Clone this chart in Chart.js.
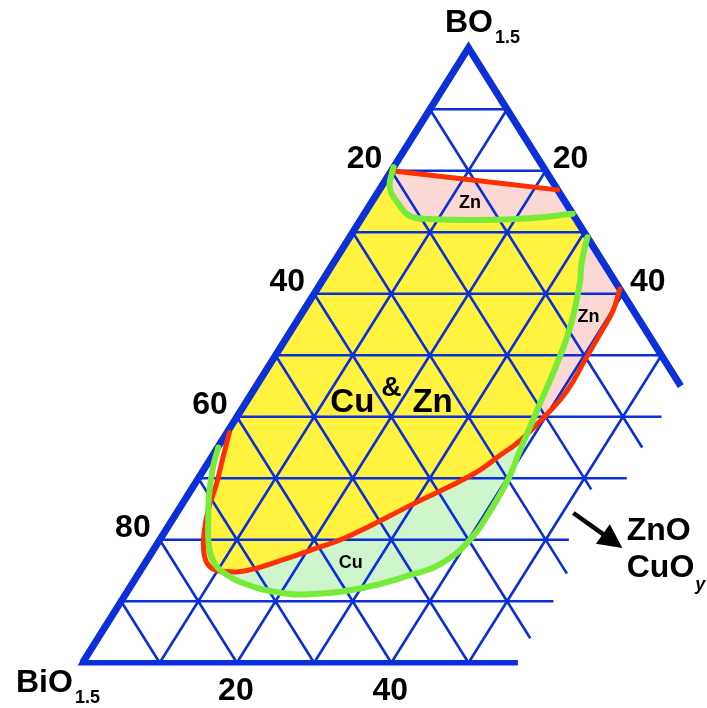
<!DOCTYPE html>
<html>
<head>
<meta charset="utf-8">
<title>BiO1.5 - BO1.5 - ZnO/CuOy</title>
<script src="https://cdn.jsdelivr.net/npm/chart.js@4/dist/chart.umd.min.js"></script>
<style>
  body { margin: 0; background: #fff; }
  canvas { display: block; }
</style>
</head>
<body>
<canvas id="tern" width="707" height="708"></canvas>
<script>
// every composition is [BO1.5 mol%, ZnO/CuOy mol%], BiO1.5 is the rest
var gridTicks = [10, 20, 30, 40, 50, 60, 70, 80, 90];
var leftTicks = [20, 40, 60, 80];
var rightTicks = [20, 40];
var bottomTicks = [20, 40];

// the net is cut off on the ZnO side below BO1.5 = 50
var rowStop = [56, 53, 55.5, 55];      // rows BO1.5 = 10..40, ZnO where they end
var bandStop = [55, 51.8, 55.5, 56];   // lines BiO1.5 = 10..40, ZnO where they end
var baseStop = 56.4;
var rightEdgeStop = 45;

// Zn limit (red) and Cu limit (green)
var znTop = [[80.0, 0.0], [76.9, 23.1]];
var cuTop = [[80.6, 0.0], [77.3, 1.15], [74.6, 3.65], [72.7, 6.0], [72.15, 8.9],
  [72.0, 15.4], [72.3, 21.8], [73.0, 27.0]];
var cuLine = [[69.2, 30.8], [65.0, 32.15], [61.6, 33.6], [54.5, 35.9], [48.0, 37.25],
  [42.0, 38.2], [37.7, 38.9], [34.0, 39.5], [30.0, 40.2], [25.0, 40.45], [20.0, 40.2],
  [16.0, 38.3], [14.4, 35.6], [12.2, 30.3], [11.2, 24.3], [11.4, 19.9], [12.9, 14.5],
  [14.7, 10.9], [16.6, 8.6], [19.3, 6.7], [23.6, 4.5], [27.4, 2.7], [31.8, 1.0], [35.0, 0.1]];
var znLine = [[60.8, 39.2], [57.2, 40.1], [53.5, 40.3], [49.6, 40.45], [44.2, 40.65],
  [39.9, 39.8], [36.1, 38.6], [33.7, 37.2], [30.7, 35.3], [25.8, 29.9], [20.4, 24.0],
  [18.6, 20.9], [16.6, 17.3], [15.0, 13.8], [14.85, 10.8], [15.4, 9.0], [17.1, 7.3],
  [20.4, 5.5], [24.7, 3.9], [29.1, 2.8], [33.4, 1.5], [37.45, 0.3]];
var cross1 = [37.3, 38.97];
var cross2 = [14.8, 10.85];

var BLUE = '#0b2fd9';
var RED = '#ff3000';
var GREEN = '#78ea38';
var FONT = '"Liberation Sans", Arial, Helvetica, sans-serif';
var TENSION = 0.45;

function xy(p) {
  return { x: p[1] + p[0] / 2, y: p[0] };
}

// pieces are either point lists or single corner points (doubled so the curve keeps its corner)
function poly() {
  var out = [];
  for (var i = 0; i < arguments.length; i++) {
    var piece = arguments[i];
    if (typeof piece[0] === 'number') out.push(piece, piece);
    else out = out.concat(piece);
  }
  return out.map(xy);
}

var grid = [];
function addLine(p, q) {
  grid.push(xy(p), xy(q), { x: null, y: null });
}
gridTicks.forEach(function (a, i) {
  addLine([a, 0], [a, a >= 50 ? 100 - a : rowStop[i]]);
});
gridTicks.forEach(function (c) {
  if (c <= 50) addLine([0, c], [100 - c, c]);
});
gridTicks.forEach(function (b, i) {
  var end = b >= 50 ? [0, 100 - b] : [100 - b - bandStop[i], bandStop[i]];
  addLine([100 - b, 0], end);
});

var yellowArea = poly(cuTop[0], cuTop.slice(1, 7), cuTop[7], cuLine[0], cuLine.slice(1, 7),
  cross1, znLine.slice(6, 21), znLine[21]);
var pinkTop = poly(znTop[0], znTop[1], cuTop[7], cuTop.slice(1, 7).reverse(), cuTop[0]);
var pinkSide = poly(cuLine[0], cuLine.slice(1, 7), cross1, znLine.slice(1, 6).reverse(), znLine[0]);
var greenArea = poly(cross1, znLine.slice(6, 14), cross2, cuLine.slice(7, 17).reverse());

function area(data, color) {
  return {
    data: data, fill: 'shape', backgroundColor: color, borderColor: 'transparent',
    borderWidth: 0, pointRadius: 0, tension: TENSION, order: 10
  };
}
function curve(list, color, width, order) {
  return {
    data: list.map(xy), borderColor: color, borderWidth: width, pointRadius: 0,
    tension: TENSION, fill: false, borderCapStyle: 'round', borderJoinStyle: 'round', order: order
  };
}

var labels = {
  id: 'ternLabels',
  afterDatasetsDraw: function (chart) {
    var ctx = chart.ctx, sx = chart.scales.x, sy = chart.scales.y;
    function at(p) {
      var q = xy(p);
      return [sx.getPixelForValue(q.x), sy.getPixelForValue(q.y)];
    }
    function text(s, x, y, size, align, style) {
      ctx.font = (style || 'bold') + ' ' + size + 'px ' + FONT;
      ctx.textAlign = align || 'center';
      ctx.textBaseline = 'alphabetic';
      ctx.fillText(s, x, y);
      return ctx.measureText(s).width;
    }
    ctx.save();
    ctx.fillStyle = '#000';

    leftTicks.forEach(function (v) {
      var p = at([100 - v, 0]);
      text(String(v), p[0] - 9, p[1] - 3, 32, 'right');
    });
    rightTicks.forEach(function (v) {
      var p = at([100 - v, v]);
      text(String(v), p[0] + 7, p[1] - 3, 32, 'left');
    });
    bottomTicks.forEach(function (v) {
      var p = at([0, v]);
      text(String(v), p[0] - 1, p[1] + 37, 32);
    });

    var top = at([100, 0]);
    var w = text('BO', top[0] - 23.5, top[1] - 16, 32, 'left');
    text('1.5', top[0] - 23.5 + w + 2, top[1] - 4.5, 18, 'left');
    var corner = at([0, 0]);
    w = text('BiO', corner[0] - 66.5, corner[1] + 29, 32, 'left');
    text('1.5', corner[0] - 66.5 + w + 2, corner[1] + 40.5, 18, 'left');

    var p = at([40.7, 14.6]);
    text('Cu', p[0], p[1], 33);
    p = at([43.4, 18.3]);
    text('&', p[0], p[1], 28);
    p = at([40.7, 25.0]);
    text('Zn', p[0], p[1], 33);
    p = at([73.9, 13.25]);
    text('Zn', p[0], p[1], 18);
    p = at([55.46, 37.8]);
    text('Zn', p[0], p[1], 18);
    p = at([15.37, 27.07]);
    text('Cu', p[0], p[1], 18);

    p = at([19.97, 60.5]);
    text('ZnO', p[0], p[1], 32, 'left');
    p = at([13.99, 63.5]);
    w = text('CuO', p[0], p[1], 32, 'left');
    text('y', p[0] + w + 1, p[1] + 13, 18, 'left', 'italic bold');

    // arrow pointing to the ZnO / CuOy corner
    var a = at([24.36, 51.4]), b = at([18.67, 60.6]);
    var dx = b[0] - a[0], dy = b[1] - a[1], len = Math.sqrt(dx * dx + dy * dy);
    var ux = dx / len, uy = dy / len, head = 24, half = 12;
    ctx.strokeStyle = '#000';
    ctx.lineWidth = 4.5;
    ctx.beginPath();
    ctx.moveTo(a[0], a[1]);
    ctx.lineTo(b[0] - ux * (head - 2), b[1] - uy * (head - 2));
    ctx.stroke();
    ctx.beginPath();
    ctx.moveTo(b[0], b[1]);
    ctx.lineTo(b[0] - ux * head - uy * half, b[1] - uy * head + ux * half);
    ctx.lineTo(b[0] - ux * head + uy * half, b[1] - uy * head - ux * half);
    ctx.closePath();
    ctx.fill();
    ctx.restore();
  }
};

new Chart(document.getElementById('tern'), {
  type: 'line',
  data: {
    datasets: [
      curve(cuTop, GREEN, 6, 0),
      curve(cuLine, GREEN, 6, 0),
      curve(znTop, RED, 5, 1),
      curve(znLine, RED, 5, 1),
      {
        data: [[0, 0], [100, 0], [rightEdgeStop, 100 - rightEdgeStop]].map(xy),
        borderColor: BLUE, borderWidth: 7, pointRadius: 0, borderJoinStyle: 'miter', order: 2
      },
      {
        data: [[0, baseStop], [0, 0], [100, 0]].map(xy),
        borderColor: BLUE, borderWidth: 5.5, pointRadius: 0, borderJoinStyle: 'miter', order: 2
      },
      {
        data: grid, borderColor: BLUE, borderWidth: 2.6, pointRadius: 0, spanGaps: false, order: 3
      },
      area(yellowArea, '#fff33f'),
      area(pinkTop, '#fbd8d3'),
      area(pinkSide, '#fbd8d3'),
      area(greenArea, '#cff5cd')
    ]
  },
  options: {
    responsive: false,
    animation: false,
    layout: { padding: 0 },
    plugins: { legend: { display: false }, tooltip: { enabled: false } },
    scales: {
      x: { type: 'linear', display: false, min: -82.5 / 7.72, max: (707 - 82.5) / 7.72 },
      y: { type: 'linear', display: false, min: -(708 - 662.8) / 6.15, max: 662.8 / 6.15 }
    }
  },
  plugins: [labels]
});
</script>
</body>
</html>
